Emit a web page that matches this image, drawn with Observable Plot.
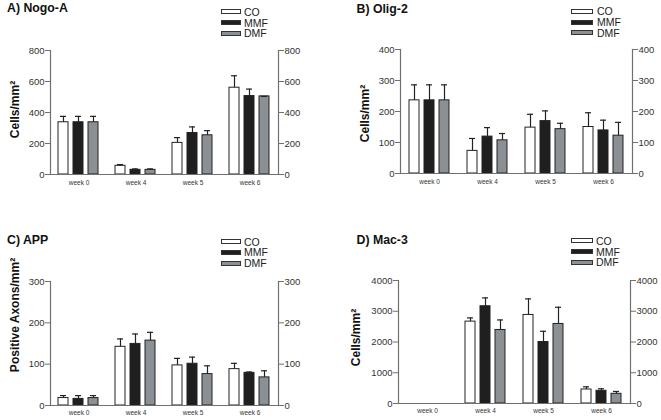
<!DOCTYPE html>
<html><head><meta charset="utf-8">
<script src="https://cdn.jsdelivr.net/npm/d3@7"></script>
<script src="https://cdn.jsdelivr.net/npm/@observablehq/plot@0.6"></script>
<style>
body{margin:0;background:#fff;}
#root{position:relative;width:661px;height:420px;overflow:hidden;font-family:"Liberation Sans",Arial,sans-serif;background:#fff;}
.t{position:absolute;white-space:nowrap;line-height:1;}
.title{font-weight:bold;font-size:12.3px;color:#111;}
.leg{font-size:10.5px;color:#222;}
.box{position:absolute;height:5px;box-sizing:border-box;border:1px solid #333;}
.plot{position:absolute;}
</style></head><body><div id="root"></div>
<script>
// ---- data ----
const weeks = ["week 0", "week 4", "week 5", "week 6"];
const groups = ["CO", "MMF", "DMF"];
const groupFill = ["#ffffff", "#1f1f1f", "#8b9095"];

// A) Nogo-A (mean, SEM)
const nogoCO = [337, 56, 204, 560];
const nogoCOsem = [38, 8, 34, 77];
const nogoMMF = [337, 30, 268, 506];
const nogoMMFsem = [38, 6, 39, 45];
const nogoDMF = [337, 30, 253, 504];
const nogoDMFsem = [38, 6, 30, 0];

// B) Olig-2
const oligCO = [236, 73, 148, 150];
const oligCOsem = [50, 40, 43, 46];
const oligMMF = [236, 119, 169, 139];
const oligMMFsem = [50, 29, 33, 33];
const oligDMF = [236, 107, 143, 122];
const oligDMFsem = [50, 22, 19, 43];

// C) APP
const appCO = [18, 142, 97, 88];
const appCOsem = [6, 19, 17, 14];
const appMMF = [16, 149, 101, 79];
const appMMFsem = [8, 24, 16, 2];
const appDMF = [18, 157, 76, 68];
const appDMFsem = [6, 20, 20, 16];

// D) Mac-3 (no data at week 0)
const macCO = [null, 2663, 2880, 456];
const macCOsem = [null, 120, 522, 87];
const macMMF = [null, 3163, 2000, 413];
const macMMFsem = [null, 272, 348, 65];
const macDMF = [null, 2391, 2587, 315];
const macDMFsem = [null, 326, 543, 76];

const nogoTicks = [0, 200, 400, 600, 800];
const oligTicks = [0, 100, 200, 300, 400];
const appTicks = [0, 100, 200, 300];
const macTicks = [0, 1000, 2000, 3000, 4000];

// ---- helpers ----
function rowsOf(means, sems) {
  const rows = [];
  groups.forEach((g, gi) => {
    weeks.forEach((w, wi) => {
      rows.push({week: w, group: g, mean: means[gi][wi], sem: sems[gi][wi]});
    });
  });
  return rows;
}
const top_ = d => (d.mean == null ? NaN : d.mean + d.sem);
const mean_ = d => (d.mean == null ? NaN : d.mean);

const root = document.getElementById("root");
function addText(cls, txt, x, baseline, fs) {
  const d = document.createElement("div");
  d.className = "t " + cls;
  d.textContent = txt;
  d.style.left = x + "px";
  d.style.top = (baseline - 0.8465 * fs) + "px";
  root.appendChild(d);
}
function addLegend(bx, bw, tx, centers) {
  groups.forEach((g, i) => {
    const b = document.createElement("div");
    b.className = "box";
    b.style.left = bx + "px";
    b.style.width = bw + "px";
    b.style.top = (centers[i] - 2.5) + "px";
    b.style.background = groupFill[i];
    root.appendChild(b);
    addText("leg", g, tx, centers[i] + 3.9, 10.5);
  });
}

function panel(cfg) {
  const rows = rowsOf(cfg.means, cfg.sems);
  const axisCol = "#707070";
  const chart = Plot.plot({
    width: cfg.width, height: cfg.height,
    marginLeft: cfg.ml, marginRight: cfg.mr, marginTop: cfg.mt, marginBottom: cfg.mb,
    style: {fontFamily: "'Liberation Sans', Arial, sans-serif", fontSize: "9.5px", color: "#333", background: "transparent", overflow: "visible"},
    fx: {domain: weeks, padding: 0, label: null},
    x: {domain: groups, paddingInner: 0.32, paddingOuter: 0.52, axis: null},
    y: {domain: cfg.domain},
    color: {domain: groups, range: groupFill},
    marks: [
      Plot.barY(rows, {fx: "week", x: "group", y: mean_, fill: "group", stroke: "#222", strokeWidth: 1}),
      Plot.ruleX(rows, {fx: "week", x: "group", y1: mean_, y2: top_, stroke: "#222", strokeWidth: 1.2}),
      Plot.tickY(rows, {fx: "week", x: "group", y: top_, stroke: "#222", strokeWidth: 1.2, insetLeft: 2, insetRight: 2}),
      Plot.ruleY([0], {stroke: axisCol, strokeWidth: 1.2}),
      Plot.frame({anchor: "left", facetAnchor: "left", stroke: axisCol, strokeWidth: 1.2}),
      Plot.frame({anchor: "right", facetAnchor: "right", stroke: axisCol, strokeWidth: 1.2}),
      Plot.axisY({anchor: "left", facetAnchor: "left", ticks: cfg.ticks, tickFormat: d => String(d), tickSize: 5, tickPadding: 1, label: null, stroke: axisCol, fill: "#333"}),
      Plot.axisY({anchor: "right", facetAnchor: "right", ticks: cfg.ticks, tickFormat: d => String(d), tickSize: 5, tickPadding: 1, label: null, stroke: axisCol, fill: "#333"}),
      Plot.axisFx({anchor: "bottom", tickSize: 0, tickPadding: cfg.xpad, label: null, fontSize: 6.5, fill: "#333"}),
      Plot.text([cfg.label], {text: d => d, frameAnchor: "left", textAnchor: "middle", lineAnchor: "middle", rotate: -90, dx: cfg.ldx, dy: cfg.ldy, fontWeight: "bold", fontSize: 12, fill: "#111", facetAnchor: "left"})
    ]
  });
  chart.classList.add("plot");
  chart.style.left = cfg.left + "px";
  chart.style.top = cfg.top + "px";
  root.appendChild(chart);
}

// A
panel({left: 0, top: 40, width: 330, height: 160, ml: 48, mr: 51, mt: 10, mb: 26, xpad: 6,
  domain: [0, 800], ticks: nogoTicks, label: "Cells/mm²", ldx: -35, ldy: -3,
  means: [nogoCO, nogoMMF, nogoDMF], sems: [nogoCOsem, nogoMMFsem, nogoDMFsem]});
addText("title", "A) Nogo-A", 7, 12.5, 12.3);
addLegend(220.5, 20, 244, [11.7, 22.5, 33.2]);

// B
panel({left: 330, top: 40, width: 331, height: 160, ml: 69, mr: 28, mt: 9, mb: 27, xpad: 6,
  domain: [0, 400], ticks: oligTicks, label: "Cells/mm²", ldx: -35.5, ldy: 2,
  means: [oligCO, oligMMF, oligDMF], sems: [oligCOsem, oligMMFsem, oligDMFsem]});
addText("title", "B) Olig-2", 356.5, 13.8, 12.3);
addLegend(571, 22, 597, [11.2, 22.2, 32.8]);

// C
panel({left: 0, top: 270, width: 330, height: 150, ml: 48, mr: 51, mt: 11, mb: 15, xpad: 5,
  domain: [0, 300], ticks: appTicks, label: "Positive Axons/mm²", ldx: -35, ldy: -28.5,
  means: [appCO, appMMF, appDMF], sems: [appCOsem, appMMFsem, appDMFsem]});
addText("title", "C) APP", 7, 244.3, 12.3);
addLegend(220.5, 20, 244, [241.7, 252.3, 263.1]);

// D
panel({left: 330, top: 270, width: 331, height: 150, ml: 68, mr: 31, mt: 10, mb: 17, xpad: 5,
  domain: [0, 4000], ticks: macTicks, label: "Cells/mm²", ldx: -42, ldy: -4.5,
  means: [macCO, macMMF, macDMF], sems: [macCOsem, macMMFsem, macDMFsem]});
addText("title", "D) Mac-3", 356.5, 244.2, 12.3);
addLegend(571, 22, 596, [240.7, 251.7, 262.3]);
</script>
</body></html>
